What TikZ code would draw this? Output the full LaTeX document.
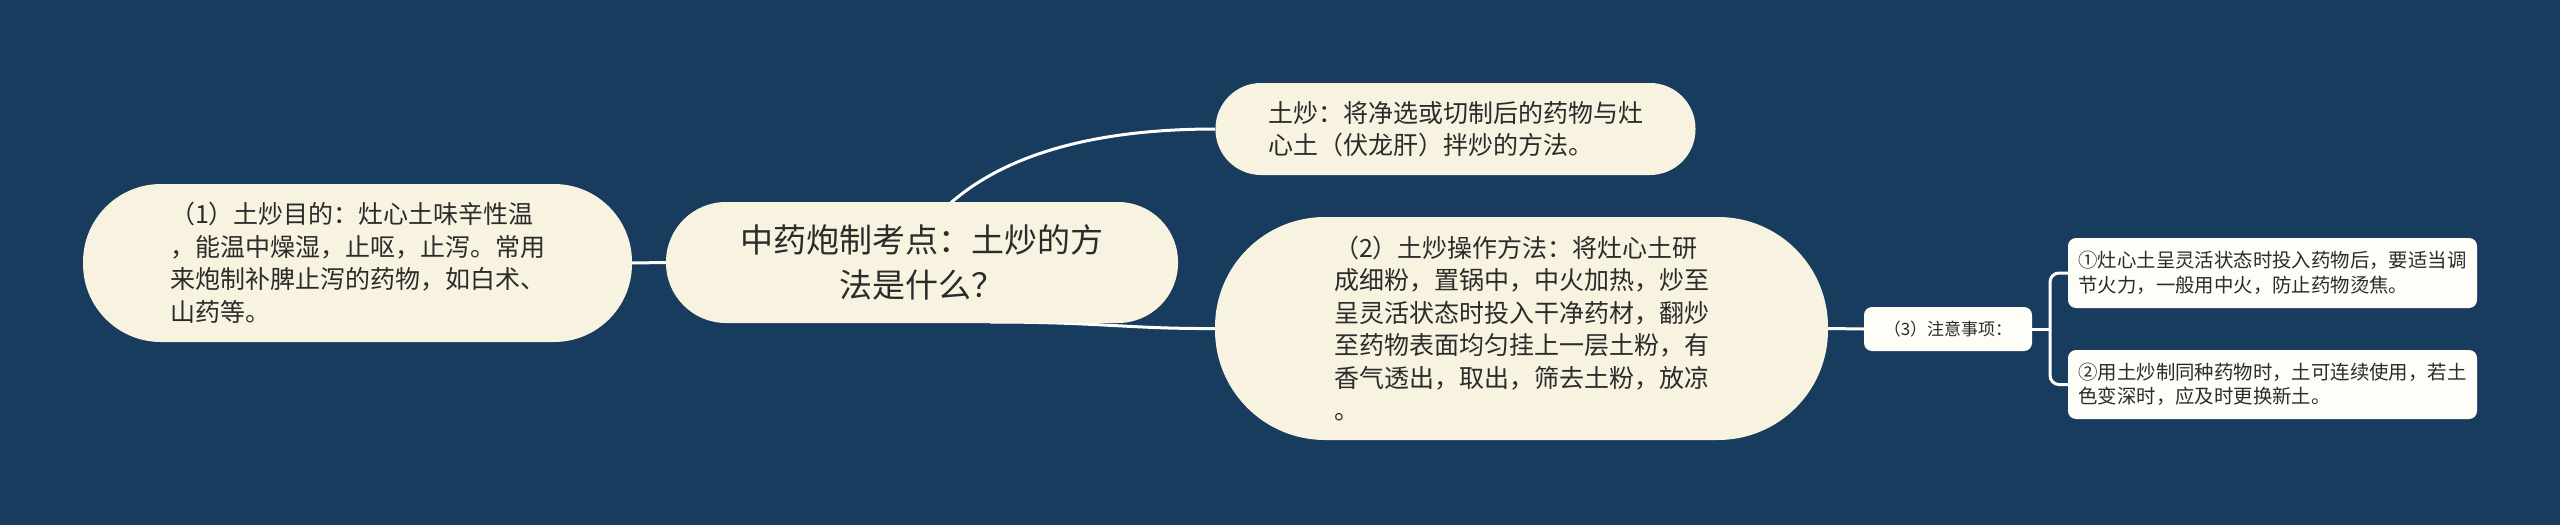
\documentclass[tikz,border=0pt]{standalone}
\usepackage{fontspec}
\newfontfamily\cjk{Noto Sans CJK SC}
\usetikzlibrary{backgrounds}
\definecolor{bg}{HTML}{183C5D}
\definecolor{cream}{HTML}{F8F3E0}
\definecolor{paper}{HTML}{FFFDF7}
\definecolor{ink}{HTML}{2B2B2B}
\tikzset{
  big/.style={fill=cream, text=ink, inner sep=0pt, align=left, font=\cjk\fontsize{25}{32.5}\selectfont},
  small/.style={fill=paper, text=ink, inner sep=0pt, align=left, rounded corners=8pt, font=\cjk\fontsize{19.4}{24.5}\selectfont},
  conn/.style={draw=white, line width=3pt},
}
\begin{document}
\begin{tikzpicture}[x=1pt,y=-1pt]
\useasboundingbox (0,0) rectangle (2560,525);
% nodes
\node[big, minimum width=549pt, minimum height=158pt, rounded corners=78pt] (n1) at (357.5,263)
  {（1）土炒目的：灶心土味辛性温\\，能温中燥湿，止呕，止泻。常用\\来炮制补脾止泻的药物，如白术、\\山药等。};
\node[big, align=center, minimum width=512pt, minimum height=121pt, rounded corners=60pt,
  font=\cjk\fontsize{33}{45}\selectfont] (n0) at (922,262.5)
  {中药炮制考点：土炒的方\\法是什么？};
\node[big, minimum width=480pt, minimum height=92pt, rounded corners=45.5pt] (nt) at (1455.5,129)
  {土炒：将净选或切制后的药物与灶\\心土（伏龙肝）拌炒的方法。};
\node[big, minimum width=613pt, minimum height=223pt, rounded corners=110pt] (n2) at (1521.5,328.5)
  {（2）土炒操作方法：将灶心土研\\成细粉，置锅中，中火加热，炒至\\呈灵活状态时投入干净药材，翻炒\\至药物表面均匀挂上一层土粉，有\\香气透出，取出，筛去土粉，放凉\\。};
\node[small, minimum width=168pt, minimum height=44pt, font=\cjk\fontsize{17}{22}\selectfont] (n3) at (1948,329)
  {（3）注意事项：};
\node[small, minimum width=409pt, minimum height=70pt] (na) at (2272.5,273)
  {①灶心土呈灵活状态时投入药物后，要适当调\\节火力，一般用中火，防止药物烫焦。};
\node[small, minimum width=409pt, minimum height=69pt] (nb) at (2272.5,384.5)
  {②用土炒制同种药物时，土可连续使用，若土\\色变深时，应及时更换新土。};
\coordinate (t0) at (943,210);
\coordinate (b0) at (990,322);
\coordinate (j) at (2050,329);
\begin{scope}[on background layer]
  \fill[bg] (0,0) rectangle (2560,525);
  \draw[conn] (n1.east) -- (n0.west);
  \draw[conn] (t0) .. controls (1003,152) and (1100,129) .. (nt.west);
  \draw[conn] (b0) .. controls (1100,322) and (1130,329) .. (n2.west);
  \draw[conn] (n2.east) -- (n3.west);
  \draw[conn] (n3.east) -- (j);
  \draw[conn, rounded corners=9pt] (j) |- (na.west);
  \draw[conn, rounded corners=9pt] (j) |- (nb.west);
\end{scope}
\end{tikzpicture}
\end{document}
